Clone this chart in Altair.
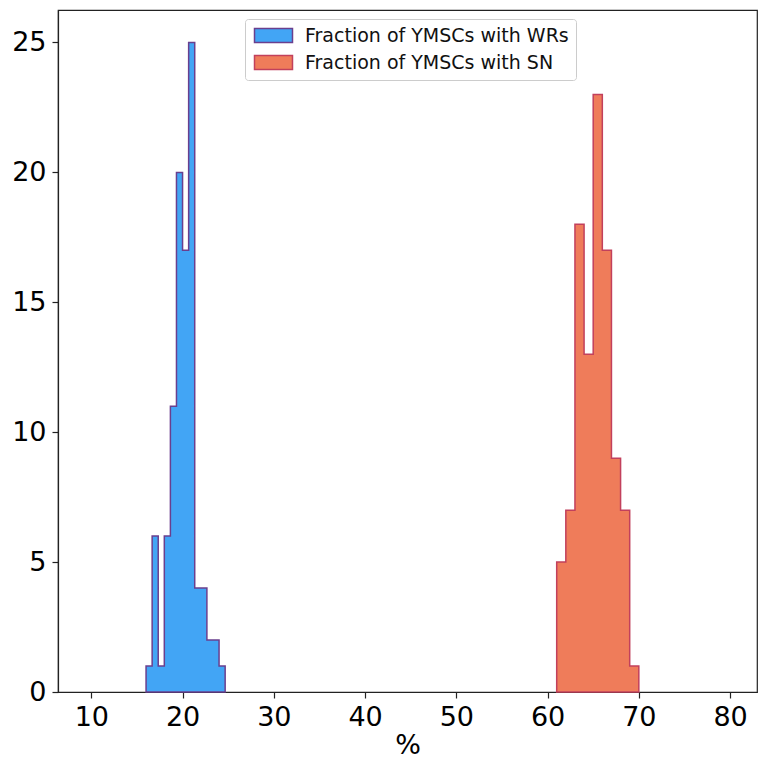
import altair as alt
import pandas as pd

# Histogram of fraction of YMSCs with WRs
wr_label = "Fraction of YMSCs with WRs"
wr_edges = [16.0, 16.667, 17.333, 18.0, 18.667, 19.333, 20.0, 20.667,
            21.333, 22.0, 22.667, 23.333, 24.0, 24.667]
wr_counts = [1, 6, 1, 6, 11, 20, 17, 25, 4, 4, 2, 2, 1]

# Histogram of fraction of YMSCs with SN
sn_label = "Fraction of YMSCs with SN"
sn_edges = [61, 62, 63, 64, 65, 66, 67, 68, 69, 70]
sn_counts = [5, 7, 18, 13, 23, 17, 9, 7, 1]

x_ticks = [10, 20, 30, 40, 50, 60, 70, 80]
y_ticks = [0, 5, 10, 15, 20, 25]

rows = []
for label, edges, counts in [(wr_label, wr_edges, wr_counts), (sn_label, sn_edges, sn_counts)]:
    for i, e in enumerate(edges):
        c = counts[i] if i < len(counts) else 0
        rows.append({"series": label, "x": e, "count": c})
df = pd.DataFrame(rows)

domain = [wr_label, sn_label]
fills = ["#42a5f5", "#ef7c5a"]
strokes = ["#6a3f8e", "#c2405c"]

leg = dict(
    title=None, orient="none", legendX=187, legendY=9,
    symbolType="M-2.714,-1H2.714V1H-2.714Z", symbolSize=196,
    symbolStrokeWidth=1.5, symbolOffset=12, labelOffset=22,
    labelFontSize=19, labelFont="DejaVu Sans", labelColor="#111111",
    labelLimit=500, padding=7, rowPadding=6,
    strokeColor="#cccccc", fillColor="#ffffff", cornerRadius=3,
)

chart = alt.Chart(df).mark_area(
    interpolate="step-after", strokeWidth=1.5, opacity=1
).encode(
    x=alt.X("x:Q", scale=alt.Scale(domain=[6.35, 82.95], nice=False, zero=False),
            axis=alt.Axis(values=x_ticks, title="%", grid=False, format="d")),
    y=alt.Y("count:Q", stack=None, scale=alt.Scale(domain=[0, 26.25], nice=False),
            axis=alt.Axis(values=y_ticks, title=None, grid=False, format="d")),
    fill=alt.Fill("series:N", scale=alt.Scale(domain=domain, range=fills), legend=alt.Legend(**leg)),
    stroke=alt.Stroke("series:N", scale=alt.Scale(domain=domain, range=strokes), legend=alt.Legend(**leg)),
    detail="series:N",
).properties(
    width=699, height=682,
    autosize=alt.AutoSizeParams(type="none"),
    padding={"left": 58, "top": 10, "right": 1, "bottom": 69},
).configure_view(
    stroke="#222222", strokeWidth=1.2
).configure_axis(
    domainColor="#222222", domainWidth=1.2, tickColor="#222222", tickWidth=1.2,
    tickSize=6, labelPadding=6, labelFont="DejaVu Sans", labelFontSize=27,
    labelColor="#000000", titleFont="DejaVu Sans", titleFontSize=27,
    titleFontWeight="normal", titleColor="#000000", titlePadding=2, zindex=1,
    labelFlush=False, labelOverlap=False,
)

chart.save("out.html", embed_options={"renderer": "svg", "actions": False})
